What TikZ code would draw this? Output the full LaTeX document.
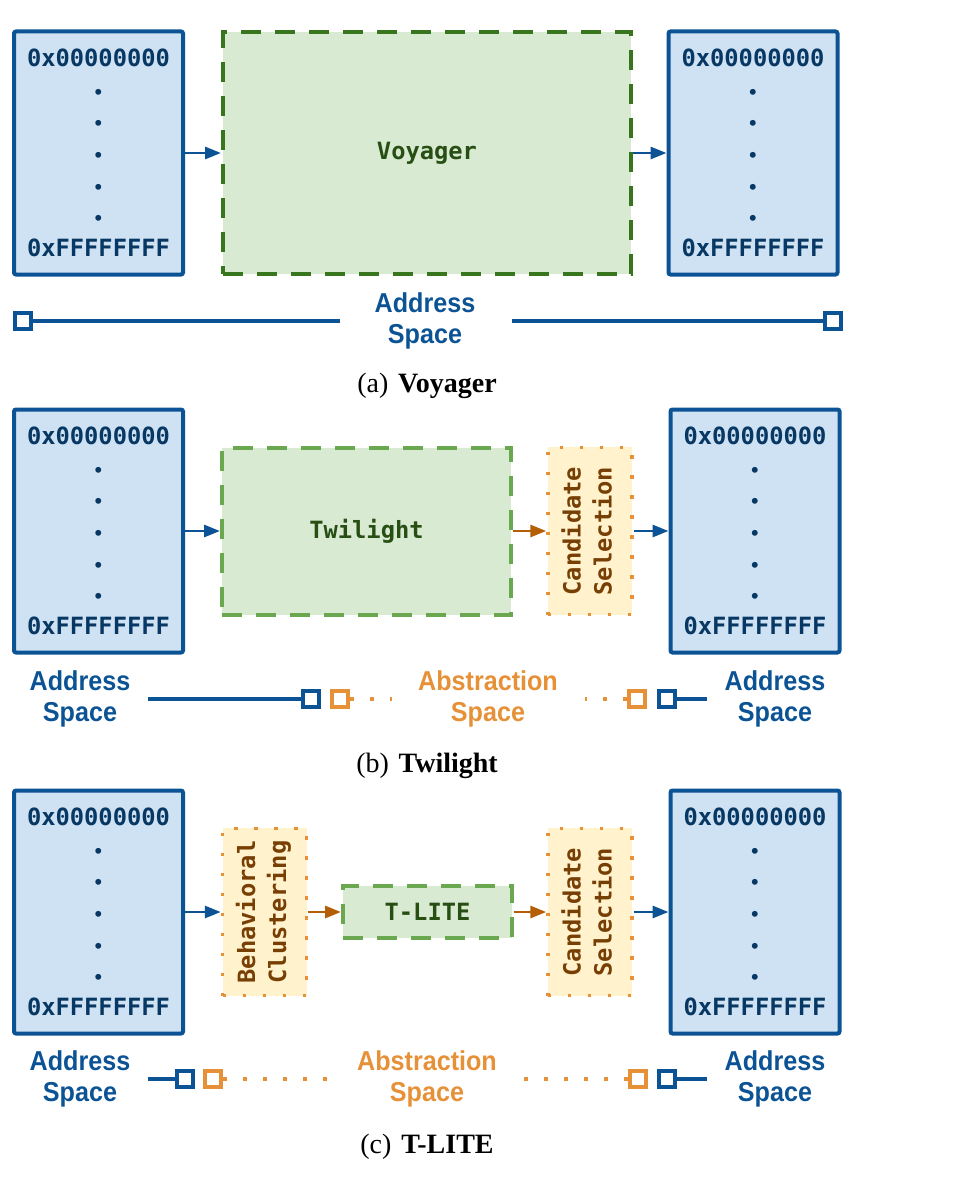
\documentclass[tikz,border=0pt]{standalone}
\usepackage{fontspec}
\setmainfont{Liberation Serif}
\newfontfamily\monof{DejaVu Sans Mono}
\newfontfamily\labf[FakeStretch=0.92]{Liberation Sans}
\usetikzlibrary{arrows.meta}
\definecolor{bluedark}{HTML}{0B5394}
\definecolor{bluefill}{HTML}{CFE2F3}
\definecolor{navy}{HTML}{073763}
\definecolor{gdark}{HTML}{38761D}
\definecolor{gmid}{HTML}{6AA84F}
\definecolor{gfill}{HTML}{D9EAD3}
\definecolor{gtext}{HTML}{274E13}
\definecolor{oline}{HTML}{E69138}
\definecolor{ofill}{HTML}{FFF2CC}
\definecolor{otext}{HTML}{783F04}
\definecolor{oarrow}{HTML}{B45F06}
\tikzset{
  x=0.75pt, y=-0.75pt,
  addr/.style={draw=bluedark, fill=bluefill, line width=3pt, rounded corners=1.5pt,
    minimum width=126.75pt, minimum height=182.25pt, inner sep=0pt, align=center,
    text=navy, font=\monof\bfseries\fontsize{17.8}{23.75}\selectfont},
  gbox/.style={fill=gfill, line width=3pt, dash pattern=on 15pt off 10.5pt,
    inner sep=0pt, text=gtext, font=\monof\bfseries\fontsize{17.8}{23.25}\selectfont},
  obox/.style={draw=oline, fill=ofill, line width=2.6pt, dash pattern=on 2.6pt off 12.4pt,
    inner sep=0pt, text=otext, minimum width=63pt, minimum height=125.5pt,
    font=\monof\bfseries\fontsize{17.8}{23.25}\selectfont},
  barrow/.style={draw=bluedark, line width=2.2pt, -{Triangle[length=12pt,width=9pt]}},
  oarr/.style={draw=oarrow, line width=2.2pt, -{Triangle[length=12pt,width=9pt]}},
  sqbox/.style={draw, fill=white, line width=3pt, minimum size=12pt, inner sep=0pt},
  bline/.style={draw=bluedark, line width=3pt},
  odots/.style={draw=oline, line width=3pt, dash pattern=on 3pt off 12pt},
  lab/.style={align=center, inner sep=0pt, font=\labf\bfseries\fontsize{20.5}{23.25}\selectfont},
  captext/.style={inner sep=0pt, font=\fontsize{21}{25}\selectfont},
}
\newcommand{\rdot}{{\fontsize{12.5}{23.75}\selectfont •}}
\newcommand{\addrtext}{0x00000000\\\rdot\\\rdot\\\rdot\\\rdot\\\rdot\\0xFFFFFFFF}
\newcommand{\twoline}[2]{\rotatebox{90}{\begin{tabular}{@{}c@{}}#1\\#2\end{tabular}}}
\begin{document}
\begin{tikzpicture}
\useasboundingbox (0,0) rectangle (966,1184);
% ---------------- (a) Voyager
\node[addr] (La) at (98.5,153) {\addrtext};
\node[gbox, draw=gdark, minimum width=306pt, minimum height=181.5pt] (voy) at (427,153) {Voyager};
\node[addr] (Ra) at (753,153) {\addrtext};
\draw[barrow] (La) -- (voy);
\draw[barrow] (voy) -- (Ra);
\node[sqbox, draw=bluedark] (sqa1) at (23,321) {};
\node[sqbox, draw=bluedark] (sqa2) at (833,321) {};
\coordinate (ca1) at (340,321);
\coordinate (ca2) at (512,321);
\draw[bline] (sqa1) -- (ca1);
\draw[bline] (ca2) -- (sqa2);
\node[lab, text=bluedark] (laba) at (425,320.5) {Address\\Space};
\node[captext] (capa) at (427,386) {(a)\hspace{0.35em}\textbf{Voyager}};
% ---------------- (b) Twilight
\node[addr] (Lb) at (98.5,531) {\addrtext};
\node[gbox, draw=gmid, minimum width=216.75pt, minimum height=125.25pt] (twi) at (366.5,531) {Twilight};
\node[obox] (csb) at (590,531) {\twoline{Candidate}{Selection}};
\node[addr] (Rb) at (755,531) {\addrtext};
\draw[barrow] (Lb) -- (twi);
\draw[oarr] (twi) -- (csb);
\draw[barrow] (csb) -- (Rb);
\node[lab, text=bluedark] (labb1) at (80,698.5) {Address\\Space};
\coordinate (cb1) at (148,699);
\node[sqbox, draw=bluedark] (sqb1) at (311,699) {};
\node[sqbox, draw=oline] (sqb2) at (340,699) {};
\coordinate (cb2) at (392,699);
\node[lab, text=oline] (labb2) at (488,698.5) {Abstraction\\Space};
\coordinate (cb3) at (585,699);
\node[sqbox, draw=oline] (sqb3) at (637,699) {};
\node[sqbox, draw=bluedark] (sqb4) at (667,699) {};
\coordinate (cb4) at (707,699);
\node[lab, text=bluedark] (labb3) at (775,698.5) {Address\\Space};
\draw[bline] (cb1) -- (sqb1);
\draw[odots] (sqb2) -- (cb2);
\draw[odots] (sqb3) -- (cb3);
\draw[bline] (sqb4) -- (cb4);
\node[captext] (capb) at (427,766) {(b)\hspace{0.35em}\textbf{Twilight}};
% ---------------- (c) T-LITE
\node[addr] (Lc) at (98.5,912) {\addrtext};
\node[obox] (bcl) at (264.5,912) {\twoline{Behavioral}{Clustering}};
\node[gbox, draw=gmid, minimum width=126.75pt, minimum height=39pt] (tl) at (427.5,912) {T-LITE};
\node[obox] (csc) at (590,912) {\twoline{Candidate}{Selection}};
\node[addr] (Rc) at (755,912) {\addrtext};
\draw[barrow] (Lc) -- (bcl);
\draw[oarr] (bcl) -- (tl);
\draw[oarr] (tl) -- (csc);
\draw[barrow] (csc) -- (Rc);
\node[lab, text=bluedark] (labc1) at (80,1078.5) {Address\\Space};
\coordinate (cc1) at (148,1079);
\node[sqbox, draw=bluedark] (sqc1) at (185,1079) {};
\node[sqbox, draw=oline] (sqc2) at (213,1079) {};
\coordinate (cc2) at (330,1079);
\node[lab, text=oline] (labc2) at (427,1078.5) {Abstraction\\Space};
\coordinate (cc3) at (522,1079);
\node[sqbox, draw=oline] (sqc3) at (638,1079) {};
\node[sqbox, draw=bluedark] (sqc4) at (667,1079) {};
\coordinate (cc4) at (707,1079);
\node[lab, text=bluedark] (labc3) at (775,1078.5) {Address\\Space};
\draw[bline] (cc1) -- (sqc1);
\draw[odots] (sqc2) -- (cc2);
\draw[odots] (sqc3) -- (cc3);
\draw[bline] (sqc4) -- (cc4);
\node[captext] (capc) at (427,1147) {(c)\hspace{0.35em}\textbf{T-LITE}};
\end{tikzpicture}
\end{document}
